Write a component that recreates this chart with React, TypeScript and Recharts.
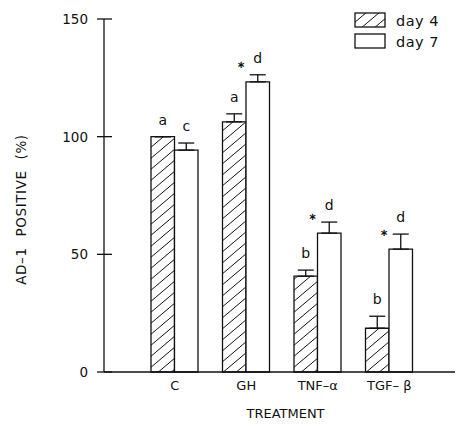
import React from "react";
import { BarChart, Bar, XAxis, YAxis, ErrorBar, LabelList, Label } from "recharts";

// AD-1 positive cells by treatment, day 4 vs day 7 (mean, SEM)
const treatments = ["C", "GH", "TNF–α", "TGF– β"];
const day4 = [100, 106.3, 40.7, 18.6];
const day4Err = [0, 3.4, 2.6, 5.1];
const day7 = [94.3, 123.3, 59.0, 52.2];
const day7Err = [3.0, 3.0, 4.7, 6.4];
const day4Letters = ["a", "a", "b", "b"];
const day7Letters = ["c", "d", "d", "d"];
const day7Star = [false, true, true, true];
const yTicks = [0, 50, 100, 150];
const seriesNames = ["day 4", "day 7"];

const data = treatments.map((name, i) => ({
  name,
  day4: day4[i],
  day7: day7[i],
  e4: [0, day4Err[i]],
  e7: [0, day7Err[i]],
}));

const FONT = "'DejaVu Sans', sans-serif";
const INK = "#111";

const YTick = (props: any) => {
  const { x, y, payload } = props;
  return (
    <g>
      <line x1={x - 7} x2={x + 8} y1={y} y2={y} stroke={INK} strokeWidth={1.3} />
      <text x={x - 16} y={y} dy="0.36em" textAnchor="end" fontSize={13.5} fontFamily={FONT} fill={INK}>
        {payload.value}
      </text>
    </g>
  );
};

const XTick = (props: any) => {
  const { x, y, payload } = props;
  return (
    <text x={x} y={y + 18} textAnchor="middle" fontSize={13} fontFamily={FONT} fill={INK}>
      {payload.value}
    </text>
  );
};

// letters above the error bar cap, optional asterisk at the bar's upper left
const letterLabel = (letters: string[], errs: number[], stars?: boolean[]) => (props: any) => {
  const vb = props.viewBox || {};
  const x = props.x ?? vb.x;
  const y = props.y ?? vb.y;
  const width = props.width ?? vb.width;
  const height = props.height ?? vb.height;
  const { index, value } = props;
  const k = value ? height / value : 0;
  const capY = y - errs[index] * k;
  return (
    <g>
      <text
        x={x + width / 2}
        y={capY - 17}
        dy="0.36em"
        textAnchor="middle"
        fontSize={14}
        fontFamily={FONT}
        fill={INK}
      >
        {letters[index]}
      </text>
      {stars && stars[index] && (
        <text x={x - 5} y={y - 17} dy="0.36em" textAnchor="middle" fontSize={10} fontWeight="bold" fontFamily={FONT} fill={INK}>
          ∗
        </text>
      )}
    </g>
  );
};

const Hatch = ({ id }: { id: string }) => (
  <pattern id={id} patternUnits="userSpaceOnUse" width={13} height={11}>
    <line x1={-1} y1={11.85} x2={14} y2={-0.85} stroke={INK} strokeWidth={1} />
  </pattern>
);

const LegendBox = () => {
  const fills = ["url(#hatchLegend)", "#fff"];
  return (
    <div style={{ position: "absolute", top: 10, left: 354, fontFamily: FONT, fontSize: 14.5, color: INK }}>
      {seriesNames.map((label, i) => (
        <div key={label} style={{ display: "flex", alignItems: "center", height: 21 }}>
          <svg width={33} height={17}>
            {i === 0 && (
              <defs>
                <Hatch id="hatchLegend" />
              </defs>
            )}
            <rect x={1} y={1} width={30} height={14} fill={fills[i]} stroke={INK} strokeWidth={1.3} />
          </svg>
          <span style={{ marginLeft: 9, letterSpacing: 0.5 }}>{label}</span>
        </div>
      ))}
    </div>
  );
};

export default function App() {
  return (
    <div style={{ position: "absolute", left: 0, top: 0, width: 458, height: 425, background: "#fff" }}>
      <BarChart
        width={458}
        height={425}
        data={data}
        margin={{ top: 19, right: 3, left: 0, bottom: 0 }}
        barGap={0}
        barSize={23.5}
      >
        <defs>
          <Hatch id="hatch" />
        </defs>
        <XAxis
          dataKey="name"
          height={53}
          padding={{ left: 35, right: 30 }}
          axisLine={{ stroke: INK, strokeWidth: 1.3 }}
          tickLine={false}
          tickSize={0}
          tickMargin={0}
          tick={<XTick />}
          interval={0}
        >
          <Label
            content={(p: any) => {
              const vb = p.viewBox;
              return (
                <text x={vb.x + vb.width / 2 + 6} y={vb.y + 46} textAnchor="middle" fontSize={13} fontFamily={FONT} fill={INK}>
                  TREATMENT
                </text>
              );
            }}
          />
        </XAxis>
        <YAxis
          width={104}
          domain={[0, 150]}
          ticks={yTicks}
          axisLine={{ stroke: INK, strokeWidth: 1.3 }}
          tickLine={false}
          tickSize={0}
          tickMargin={0}
          tick={<YTick />}
        >
          <Label
            content={(p: any) => {
              const vb = p.viewBox;
              const cx = vb.x + 21;
              const cy = vb.y + vb.height / 2 + 14;
              return (
                <text
                  x={cx}
                  y={cy}
                  transform={`rotate(-90 ${cx} ${cy})`}
                  textAnchor="middle"
                  dy="0.36em"
                  fontSize={13.5}
                  fontFamily={FONT}
                  fill={INK}
                  style={{ wordSpacing: 6, letterSpacing: 0.6 }}
                >
                  AD–1 POSITIVE (%)
                </text>
              );
            }}
          />
        </YAxis>
        <Bar dataKey="day4" name={seriesNames[0]} fill="url(#hatch)" stroke={INK} strokeWidth={1.3} isAnimationActive={false}>
          <ErrorBar dataKey="e4" direction="y" width={8} stroke={INK} strokeWidth={1.3} />
          <LabelList dataKey="day4" content={letterLabel(day4Letters, day4Err)} />
        </Bar>
        <Bar dataKey="day7" name={seriesNames[1]} fill="#fff" stroke={INK} strokeWidth={1.3} isAnimationActive={false}>
          <ErrorBar dataKey="e7" direction="y" width={8} stroke={INK} strokeWidth={1.3} />
          <LabelList dataKey="day7" content={letterLabel(day7Letters, day7Err, day7Star)} />
        </Bar>
      </BarChart>
      <LegendBox />
    </div>
  );
}
